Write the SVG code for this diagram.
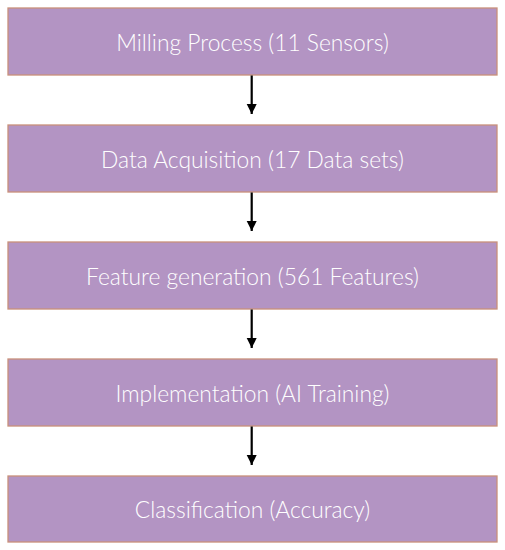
<svg xmlns="http://www.w3.org/2000/svg" width="505" height="550" viewBox="0 0 505 550">
<defs>
<style>
.box{fill:#B394C3;stroke:#C9907A;stroke-width:1.3}
.lbl{font-family:Lato,"Open Sans",sans-serif;font-size:22.8px;font-weight:300;fill:#ffffff;text-anchor:middle;dominant-baseline:central}
.conn{stroke:#000;stroke-width:2.2;fill:none}
</style>
<marker id="ah2" markerWidth="10" markerHeight="12" refX="10" refY="5" orient="auto" markerUnits="userSpaceOnUse" viewBox="0 0 10 10">
<path d="M0,0 L10,5 L0,10 Z" fill="#000"/>
</marker>
</defs>
<rect width="505" height="550" fill="#fff"/>
<g id="n1"><rect class="box" x="8" y="8" width="489" height="67"/><text class="lbl" x="252.5" y="42">Milling Process (11 Sensors)</text></g>
<g id="n2"><rect class="box" x="8" y="125" width="489" height="67"/><text class="lbl" x="252.5" y="159">Data Acquisition (17 Data sets)</text></g>
<g id="n3"><rect class="box" x="8" y="242" width="489" height="67"/><text class="lbl" x="252.5" y="276">Feature generation (561 Features)</text></g>
<g id="n4"><rect class="box" x="8" y="359" width="489" height="67"/><text class="lbl" x="252.5" y="393">Implementation (AI Training)</text></g>
<g id="n5"><rect class="box" x="8" y="476" width="489" height="66"/><text class="lbl" x="252.5" y="509">Classification (Accuracy)</text></g>
<g id="connectors">
<line class="conn" x1="251.7" y1="75.5" x2="251.7" y2="114" marker-end="url(#ah2)"/>
<line class="conn" x1="251.7" y1="192.5" x2="251.7" y2="231" marker-end="url(#ah2)"/>
<line class="conn" x1="251.7" y1="309.5" x2="251.7" y2="348" marker-end="url(#ah2)"/>
<line class="conn" x1="251.7" y1="426.5" x2="251.7" y2="465" marker-end="url(#ah2)"/>
</g>
</svg>
